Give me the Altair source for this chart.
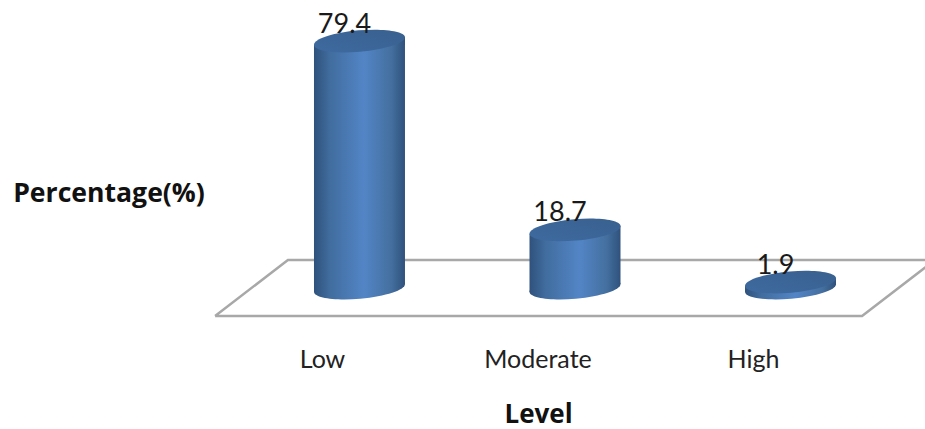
import altair as alt
import pandas as pd

# Survey results per level
levels = ["Low", "Moderate", "High"]
positions = [0, 1, 2]
percentages = [79.4, 18.7, 1.9]

# Outline of the perspective floor, in axis units (category position, percent)
floor_x = [-0.670, -0.332, 2.670, 2.332, -0.670]
floor_y = [-9.0, 9.0, 9.0, -9.0, -9.0]

RADIUS_UNITS = 0.2111  # half a cylinder's width on the category axis
TILT_UNITS = 1.29      # rise of the cylinder ends across half their width

FONT = "Lato"
TITLE_FONT = "Open Sans"

# Tilted ellipse used for both ends of each cylinder
ELLIPSE = "M-1,0.087 A1,0.235 -5 1 1 1,-0.087 A1,0.235 -5 1 1 -1,0.087 Z"
ELLIPSE_SIZE = 8281

side_fill = alt.Gradient(
    gradient="linear", x1=0, x2=1, y1=0, y2=0,
    stops=[
        alt.GradientStop(offset=0, color="#2f527c"),
        alt.GradientStop(offset=0.18, color="#416d9f"),
        alt.GradientStop(offset=0.55, color="#5385c6"),
        alt.GradientStop(offset=0.85, color="#446f9f"),
        alt.GradientStop(offset=1, color="#2f527c"),
    ],
)
top_fill = alt.Gradient(
    gradient="linear", x1=0, x2=1, y1=1, y2=0,
    stops=[
        alt.GradientStop(offset=0, color="#3e6aa0"),
        alt.GradientStop(offset=1, color="#39618f"),
    ],
)

x_scale = alt.Scale(domain=[-1.668, 2.624], nice=False, zero=False)
y_scale = alt.Scale(domain=[-18.33, 92.6], nice=False, zero=False)

bars = pd.DataFrame({"level": levels, "pos": positions, "value": percentages})

# Cylinder walls: one sloped quad per level, running from base to value
sides = []
for lvl, pos, val in zip(levels, positions, percentages):
    sides.append({"level": lvl, "x": pos - RADIUS_UNITS, "low": -TILT_UNITS, "high": val - TILT_UNITS})
    sides.append({"level": lvl, "x": pos + RADIUS_UNITS, "low": TILT_UNITS, "high": val + TILT_UNITS})
sides = pd.DataFrame(sides)

floor = pd.DataFrame({"i": range(len(floor_x)), "x": floor_x, "y": floor_y})

x_labels = "{0: 'Low', 1: 'Moderate', 2: 'High'}[datum.value]"

x_axis = alt.Axis(
    values=positions, labelExpr=x_labels, labelOffset=-37.5, labelPadding=22,
    labelBaseline="alphabetic", labelFont=FONT, labelFontSize=25, labelColor="#222222",
    domain=False, ticks=False, grid=False, labelAngle=0,
    title="Level", titleFont=TITLE_FONT, titleFontSize=26, titleFontWeight="bold", titleColor="#111111",
    titleX=538, titleY=77, titleAlign="center", titleBaseline="alphabetic",
)
y_axis = alt.Axis(
    labels=False, domain=False, ticks=False, grid=False,
    title="Percentage(%)", titleFont=TITLE_FONT, titleFontSize=26.6, titleFontWeight="bold", titleColor="#111111",
    titleX=108.5, titleY=193, titleAngle=0, titleAlign="center", titleBaseline="middle",
)

floor_layer = alt.Chart(floor).mark_line(color="#a8a8a8", strokeWidth=2.5).encode(
    x=alt.X("x:Q", scale=x_scale, axis=x_axis),
    y=alt.Y("y:Q", scale=y_scale, axis=y_axis),
    order="i:Q",
)

base_layer = alt.Chart(bars).transform_calculate(base="0").mark_point(
    shape=ELLIPSE, size=ELLIPSE_SIZE, filled=True, fill=side_fill, opacity=1, strokeWidth=0
).encode(x=alt.X("pos:Q", scale=x_scale), y=alt.Y("base:Q", scale=y_scale))

side_layer = alt.Chart(sides).mark_area(fill=side_fill, opacity=1).encode(
    x=alt.X("x:Q", scale=x_scale),
    y=alt.Y("low:Q", scale=y_scale),
    y2="high:Q",
    detail="level:N",
)

top_layer = alt.Chart(bars).mark_point(
    shape=ELLIPSE, size=ELLIPSE_SIZE, filled=True, fill=top_fill, opacity=1, strokeWidth=0
).encode(x=alt.X("pos:Q", scale=x_scale), y=alt.Y("value:Q", scale=y_scale))

value_labels = alt.Chart(bars).mark_text(
    font=FONT, fontSize=27, color="#1a1a1a", dx=-15, dy=-8.5, baseline="alphabetic", align="center"
).encode(
    x=alt.X("pos:Q", scale=x_scale),
    y=alt.Y("value:Q", scale=y_scale),
    text=alt.Text("value:Q", format=".1f"),
)

chart = (
    alt.layer(floor_layer, base_layer, side_layer, top_layer, value_labels)
    .properties(
        width=925, height=345,
        autosize=alt.AutoSizeParams(type="none"),
        padding={"left": 0, "top": 0, "right": 0, "bottom": 84},
        background="white",
    )
    .configure_view(stroke=None)
)

chart.save("out.html", embed_options={"renderer": "svg", "actions": False})
